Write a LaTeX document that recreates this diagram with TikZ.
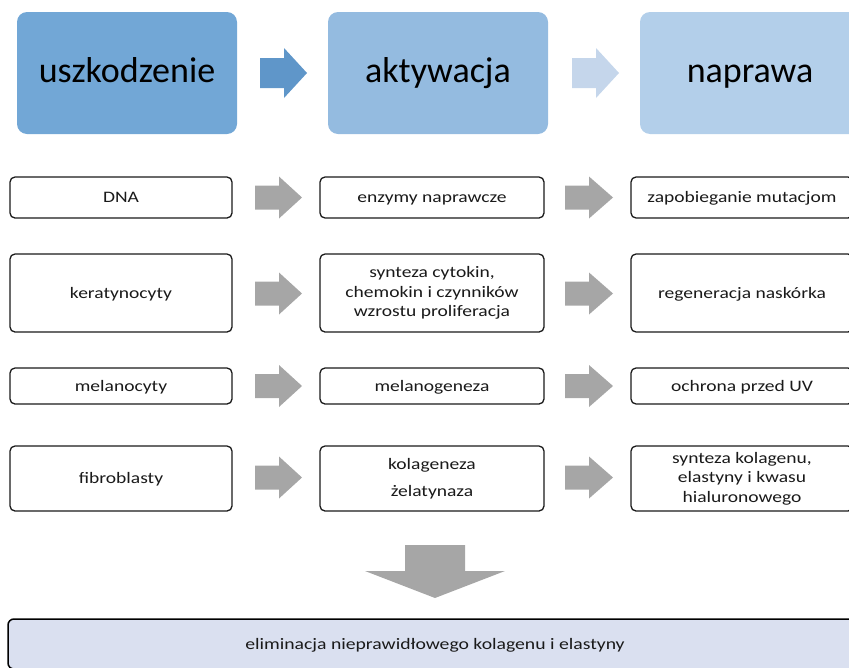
\documentclass[tikz,border=0pt]{standalone}
\usepackage{fontspec}
\setmainfont{Carlito}
\newfontfamily\cellfont[FakeStretch=1.22]{Carlito}
\newfontfamily\bottomfont[FakeStretch=1.23]{Carlito}
\definecolor{hdrA}{HTML}{72A7D6}
\definecolor{hdrB}{HTML}{94BBE0}
\definecolor{hdrC}{HTML}{B3CFEA}
\definecolor{arrA}{HTML}{5F96C9}
\definecolor{arrB}{HTML}{C5D6EB}
\definecolor{arrgray}{HTML}{A6A6A6}
\definecolor{botfill}{HTML}{DAE0F0}
\definecolor{txtdark}{HTML}{1A1A1A}
\newcommand{\blockarrow}[5]{% x1, xhead, x2, yc, color
  \fill[#5] (#1,#4-12) -- (#2,#4-12) -- (#2,#4-21) -- (#3,#4) -- (#2,#4+21) -- (#2,#4+12) -- (#1,#4+12) -- cycle;}
\begin{document}
\begin{tikzpicture}[x=1pt,y=-1pt,
  header/.style={rounded corners=10pt, minimum width=220pt, minimum height=122pt,
    inner sep=0pt, text height=26pt, text depth=8pt,
    font=\fontsize{36}{40}\selectfont, text=black},
  cellbox/.style={draw=txtdark, line width=1.3pt, rounded corners=5pt, fill=white,
    inner sep=0pt, align=center, text=txtdark,
    font=\cellfont\fontsize{16}{19.5}\selectfont},
  oneline/.style={text height=13pt, text depth=3pt},
  botbox/.style={draw=black, line width=1.5pt, rounded corners=6pt, fill=botfill,
    inner sep=0pt, text=txtdark, text height=13pt, text depth=3pt,
    font=\bottomfont\fontsize{16}{20}\selectfont}]
\useasboundingbox (0,0) rectangle (849,667);
\clip (0,0) rectangle (849,667);

% headers
\node[header, fill=hdrA] (h1) at (127,73) {uszkodzenie};
\node[header, fill=hdrB] (h2) at (438,73) {aktywacja};
\node[header, fill=hdrC] (h3) at (750,73) {naprawa};
\fill[arrA] (260,58) -- (284,58) -- (284,48) -- (307,73) -- (284,98) -- (284,88) -- (260,88) -- cycle;
\fill[arrB] (572,58) -- (596,58) -- (596,48) -- (619,73) -- (596,98) -- (596,88) -- (572,88) -- cycle;

% row 1
\node[cellbox, oneline, minimum width=222pt, minimum height=41pt] (a1) at (121,197.5) {DNA};
\node[cellbox, oneline, minimum width=224pt, minimum height=41pt] (b1) at (432,197.5) {enzymy naprawcze};
\node[cellbox, oneline, minimum width=222pt, minimum height=41pt] (c1) at (742,197.5) {zapobieganie mutacjom};
% row 2
\node[cellbox, oneline, minimum width=222pt, minimum height=78pt] (a2) at (121,293) {keratynocyty};
\node[cellbox, minimum width=224pt, minimum height=78pt] (b2) at (432,293) {synteza cytokin,\\chemokin i czynników\\wzrostu proliferacja};
\node[cellbox, oneline, minimum width=222pt, minimum height=78pt] (c2) at (742,293) {regeneracja naskórka};
% row 3
\node[cellbox, oneline, minimum width=222pt, minimum height=36pt] (a3) at (121,386) {melanocyty};
\node[cellbox, oneline, minimum width=224pt, minimum height=36pt] (b3) at (432,386) {melanogeneza};
\node[cellbox, oneline, minimum width=222pt, minimum height=36pt] (c3) at (742,386) {ochrona przed UV};
% row 4
\node[cellbox, oneline, minimum width=222pt, minimum height=65pt] (a4) at (121,478.5) {fibroblasty};
\node[cellbox, minimum width=224pt, minimum height=65pt] (b4) at (432,478.5) {kolageneza\\[8pt]żelatynaza};
\node[cellbox, minimum width=222pt, minimum height=65pt] (c4) at (742,478.5) {synteza kolagenu,\\elastyny i kwasu\\hialuronowego};

% gray block arrows
\blockarrow{255}{279}{302}{197.5}{arrgray}
\blockarrow{565}{589}{613}{197.5}{arrgray}
\blockarrow{255}{279}{302}{293.5}{arrgray}
\blockarrow{565}{589}{613}{293.5}{arrgray}
\blockarrow{255}{279}{302}{386}{arrgray}
\blockarrow{565}{589}{613}{386}{arrgray}
\blockarrow{255}{279}{302}{477.5}{arrgray}
\blockarrow{565}{589}{613}{477.5}{arrgray}

% down arrow
\fill[arrgray] (405,545) -- (465,545) -- (465,571) -- (505,571) -- (435,598) -- (365,571) -- (405,571) -- cycle;

% bottom box
\node[botbox, minimum width=854pt, minimum height=50pt] (bot) at (435,644) {eliminacja nieprawidłowego kolagenu i elastyny};
\end{tikzpicture}
\end{document}
